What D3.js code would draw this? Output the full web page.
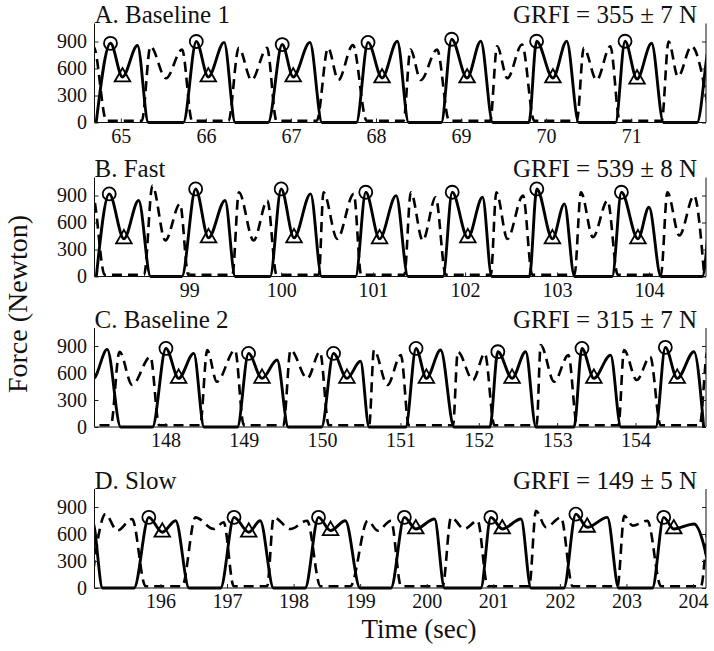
<!DOCTYPE html>
<html>
<head>
<meta charset="utf-8">
<script src="https://cdn.jsdelivr.net/npm/d3@7"></script>
<style>
  body { margin: 0; background: #fff; }
  text { font-family: "Liberation Serif", "Times New Roman", serif; fill: #111; }
</style>
</head>
<body>
<svg id="chart" width="714" height="651"></svg>
<script>
// panel texts
const panelTitles = ["A. Baseline 1", "B. Fast", "C. Baseline 2", "D. Slow"];
const grfiLabels = ["GRFI = 355 \u00b1 7 N", "GRFI = 539 \u00b1 8 N", "GRFI = 315 \u00b1 7 N", "GRFI = 149 \u00b1 5 N"];

// time window (sec) and tick labels per panel
const timeDomains = [[64.69, 71.88], [97.97, 104.62], [147.095, 154.9], [195.009, 204.195]];
const timeTicks = [
  [65, 66, 67, 68, 69, 70, 71],
  [99, 100, 101, 102, 103, 104],
  [148, 149, 150, 151, 152, 153, 154],
  [196, 197, 198, 199, 200, 201, 202, 203, 204]
];
const forceDomain = [0, 1100];
const forceTicks = [0, 300, 600, 900];
const dashedFloor = 20; // swing-phase force of the dashed trace

// one step per row: [contact, peak1 t, peak1 N, trough t, trough N, peak2 t, peak2 N, lift-off]
const solidA = [
  [64.71, 64.878, 880, 65.019, 506, 65.195, 855, 65.324],
  [65.735, 65.887, 900, 66.028, 506, 66.214, 890, 66.345],
  [66.732, 66.897, 866, 67.026, 506, 67.223, 890, 67.365],
  [67.769, 67.906, 890, 68.071, 495, 68.25, 903, 68.384],
  [68.768, 68.889, 925, 69.071, 495, 69.232, 903, 69.373],
  [69.798, 69.888, 903, 70.08, 495, 70.242, 903, 70.383],
  [70.817, 70.928, 903, 71.069, 483, 71.24, 880, 71.38],
  [71.776, 71.93, 880, 72.07, 500, 72.25, 880, 72.38]
];
const dashedA = [
  [64.2, 64.3, 840, 64.45, 490, 64.68, 840, 64.83],
  [65.247, 65.348, 847, 65.53, 491, 65.72, 810, 65.837],
  [66.265, 66.386, 829, 66.537, 472, 66.719, 829, 66.83],
  [67.304, 67.436, 829, 67.557, 472, 67.728, 860, 67.89],
  [68.324, 68.405, 810, 68.526, 472, 68.718, 810, 68.86],
  [69.343, 69.424, 847, 69.545, 491, 69.717, 866, 69.86],
  [70.362, 70.443, 829, 70.594, 472, 70.755, 847, 70.866],
  [71.36, 71.44, 900, 71.55, 510, 71.71, 847, 71.93]
];

const solidB = [
  [97.99, 98.13, 918, 98.29, 418, 98.45, 844, 98.58],
  [98.92, 99.07, 973, 99.21, 429, 99.39, 844, 99.5],
  [99.88, 100.0, 973, 100.14, 429, 100.32, 918, 100.44],
  [100.81, 100.92, 936, 101.07, 418, 101.25, 899, 101.38],
  [101.76, 101.86, 936, 102.03, 429, 102.19, 880, 102.29],
  [102.7, 102.78, 973, 102.95, 418, 103.08, 807, 103.19],
  [103.6, 103.7, 936, 103.88, 418, 104.0, 769, 104.13],
  [104.58, 104.7, 930, 104.85, 420, 105.0, 850, 105.1]
];
const dashedB = [
  [97.4, 97.5, 930, 97.65, 420, 97.95, 900, 98.08],
  [98.51, 98.6, 1010, 98.74, 400, 98.9, 807, 98.99],
  [99.47, 99.54, 936, 99.7, 400, 99.85, 844, 99.95],
  [100.41, 100.46, 936, 100.61, 418, 100.79, 918, 100.87],
  [101.34, 101.41, 936, 101.54, 400, 101.68, 880, 101.79],
  [102.28, 102.34, 936, 102.46, 418, 102.63, 899, 102.73],
  [103.19, 103.26, 936, 103.39, 436, 103.55, 844, 103.66],
  [104.13, 104.2, 936, 104.33, 455, 104.49, 899, 104.6]
];

const solidC = [
  [146.5, 146.75, 860, 147.08, 540, 147.257, 862, 147.429],
  [147.835, 148.007, 873, 148.169, 540, 148.362, 818, 148.493],
  [148.919, 149.061, 818, 149.233, 540, 149.426, 744, 149.568],
  [149.993, 150.146, 818, 150.317, 540, 150.49, 730, 150.6],
  [151.067, 151.199, 873, 151.331, 540, 151.513, 855, 151.685],
  [152.142, 152.243, 836, 152.425, 540, 152.598, 836, 152.73],
  [153.216, 153.317, 873, 153.469, 540, 153.682, 799, 153.814],
  [154.259, 154.381, 885, 154.533, 540, 154.746, 836, 154.87]
];
const dashedC = [
  [146.2, 146.3, 850, 146.5, 500, 146.75, 800, 146.86],
  [147.303, 147.414, 836, 147.576, 466, 147.809, 781, 147.92],
  [148.443, 148.534, 855, 148.656, 503, 148.889, 855, 149.0],
  [149.507, 149.598, 855, 149.811, 540, 149.973, 836, 150.085],
  [150.601, 150.662, 855, 150.834, 466, 151.006, 799, 151.107],
  [151.671, 151.732, 836, 151.925, 522, 152.077, 818, 152.199],
  [152.739, 152.79, 910, 152.962, 503, 153.144, 799, 153.255],
  [153.783, 153.854, 855, 154.016, 522, 154.188, 781, 154.32],
  [154.82, 154.92, 850, 155.05, 500, 155.25, 800, 155.36]
];

const solidD = [
  [194.3, 194.5, 785, 194.7, 630, 194.98, 740, 195.13],
  [195.603, 195.825, 785, 196.027, 620, 196.228, 748, 196.43],
  [196.903, 197.105, 785, 197.326, 620, 197.498, 748, 197.699],
  [198.173, 198.374, 785, 198.555, 638, 198.777, 748, 198.999],
  [199.462, 199.664, 785, 199.835, 656, 200.117, 766, 200.268],
  [200.812, 200.963, 785, 201.134, 656, 201.416, 766, 201.567],
  [202.059, 202.24, 821, 202.41, 675, 202.713, 785, 202.884],
  [203.389, 203.56, 785, 203.711, 656, 204.014, 711, 204.3]
];
const dashedD = [
  [194.96, 195.174, 821, 195.35, 638, 195.575, 766, 195.775],
  [196.326, 196.525, 785, 196.8, 656, 196.95, 730, 197.1],
  [197.602, 197.701, 785, 197.952, 656, 198.203, 748, 198.402],
  [198.853, 199.113, 748, 199.263, 638, 199.464, 748, 199.614],
  [200.239, 200.365, 785, 200.565, 656, 200.764, 748, 200.915],
  [201.54, 201.641, 858, 201.791, 675, 202.016, 785, 202.19],
  [202.866, 202.967, 803, 203.092, 693, 203.316, 748, 203.518],
  [204.119, 204.25, 780, 204.4, 650, 204.6, 750, 204.8]
];

const solidSteps = [solidA, solidB, solidC, solidD];
const dashedSteps = [dashedA, dashedB, dashedC, dashedD];

const svg = d3.select("#chart");
const left = 94.5, right = 706;
const panelBottoms = [122.5, 276.5, 427, 588];
const panelHeight = 99;

function stepPoints(steps, floor) {
  const pts = [];
  steps.forEach(s => {
    pts.push([s[0], floor], [s[1], s[2]], [s[3], s[4]], [s[5], s[6]], [s[7], floor]);
  });
  return pts;
}

panelTitles.forEach((title, i) => {
  const bottom = panelBottoms[i], top = bottom - panelHeight;
  const domain = timeDomains[i];
  const x = d3.scaleLinear().domain(domain).range([left, right]);
  const y = d3.scaleLinear().domain(forceDomain).range([bottom, top]);
  const g = svg.append("g");

  g.append("clipPath").attr("id", "clip" + i)
    .append("rect")
    .attr("x", left).attr("y", top - 30)
    .attr("width", right - left).attr("height", panelHeight + 33);

  const line = d3.line()
    .x(d => x(d[0]))
    .y(d => y(d[1]))
    .curve(d3.curveMonotoneX);

  const traces = g.append("g").attr("clip-path", `url(#clip${i})`);

  traces.append("path")
    .datum(stepPoints(dashedSteps[i], dashedFloor))
    .attr("d", line)
    .attr("fill", "none")
    .attr("stroke", "#000")
    .attr("stroke-width", 2.6)
    .attr("stroke-dasharray", "10,6");

  traces.append("path")
    .datum(stepPoints(solidSteps[i], 0))
    .attr("d", line)
    .attr("fill", "none")
    .attr("stroke", "#000")
    .attr("stroke-width", 2.9)
    .attr("stroke-linejoin", "round");

  // circle at first peak, triangle at the trough
  const marked = solidSteps[i].filter(s => s[1] >= domain[0] && s[3] <= domain[1]);

  g.selectAll(".peak")
    .data(marked)
    .enter()
    .append("circle")
    .attr("class", "peak")
    .attr("cx", d => x(d[1]))
    .attr("cy", d => y(d[2]))
    .attr("r", 6.5)
    .attr("fill", "none")
    .attr("stroke", "#000")
    .attr("stroke-width", 1.8);

  g.selectAll(".trough")
    .data(marked)
    .enter()
    .append("path")
    .attr("class", "trough")
    .attr("d", d3.symbol(d3.symbolTriangle, 105))
    .attr("transform", d => `translate(${x(d[3])},${y(d[4])})`)
    .attr("fill", "none")
    .attr("stroke", "#000")
    .attr("stroke-width", 1.8);

  // axes
  const yAxis = g.append("g")
    .attr("transform", `translate(${left},0)`)
    .call(d3.axisLeft(y).tickValues(forceTicks).tickFormat(d3.format("d"))
      .tickSizeInner(-4).tickSizeOuter(0).tickPadding(7.5));
  yAxis.select(".domain").remove();
  yAxis.selectAll("text").attr("font-size", 20).attr("font-family", null).attr("fill", "#111");
  yAxis.selectAll("line").attr("stroke", "#222");

  const rAxis = g.append("g")
    .attr("transform", `translate(${right},0)`)
    .call(d3.axisRight(y).tickValues(forceTicks).tickSize(-4).tickFormat(""));
  rAxis.select(".domain").remove();
  rAxis.selectAll("line").attr("stroke", "#222");

  const xAxis = g.append("g")
    .attr("transform", `translate(0,${bottom})`)
    .call(d3.axisBottom(x).tickValues(timeTicks[i]).tickFormat(d3.format("d"))
      .tickSizeInner(-4).tickSizeOuter(0).tickPadding(6));
  xAxis.select(".domain").remove();
  xAxis.selectAll("text").attr("font-size", 20).attr("font-family", null).attr("fill", "#111");
  xAxis.selectAll("line").attr("stroke", "#222");

  g.append("path")
    .attr("d", `M${left},${top}V${bottom}H${right}V${top}`)
    .attr("fill", "none")
    .attr("stroke", "#111")
    .attr("stroke-width", 1);

  g.append("text")
    .attr("x", left)
    .attr("y", top - 0.5)
    .attr("font-size", 25)
    .text(title);

  g.append("text")
    .attr("x", 697)
    .attr("y", top - 0.5)
    .attr("text-anchor", "end")
    .attr("font-size", 25)
    .text(grfiLabels[i]);
});

svg.append("text")
  .attr("transform", "translate(27,304) rotate(-90)")
  .attr("text-anchor", "middle")
  .attr("font-size", 28)
  .text("Force (Newton)");

svg.append("text")
  .attr("x", 419)
  .attr("y", 638)
  .attr("text-anchor", "middle")
  .attr("font-size", 27)
  .text("Time (sec)");
</script>
</body>
</html>
